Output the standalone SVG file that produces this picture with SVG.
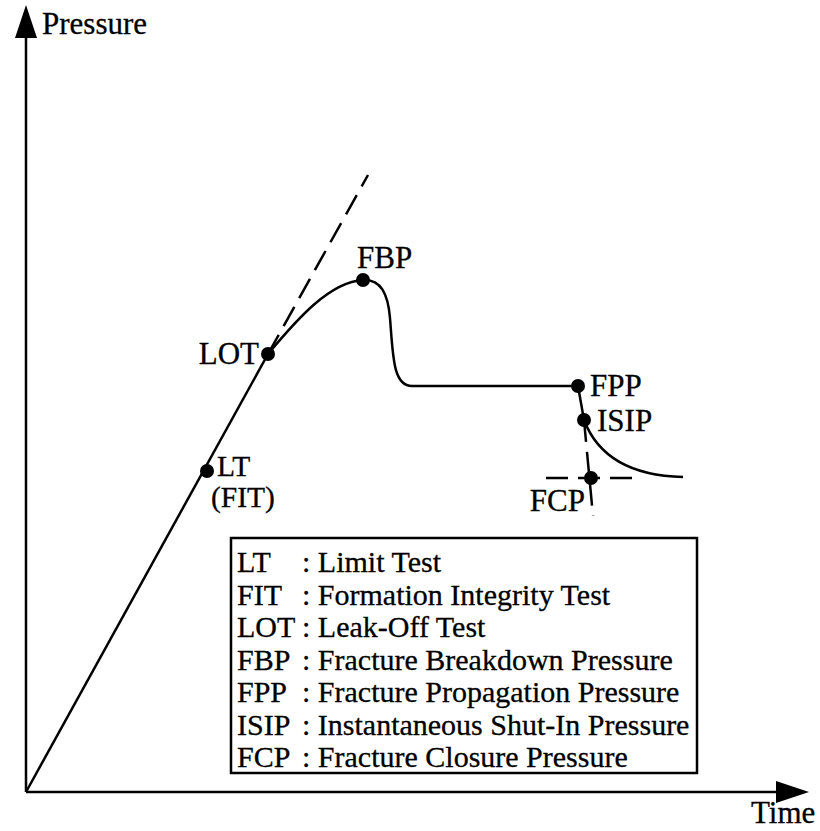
<svg xmlns="http://www.w3.org/2000/svg" width="820" height="831" viewBox="0 0 820 831">
  <style>
    .ax { stroke: #000; stroke-width: 2.5; fill: none; }
    .crv { stroke: #000; stroke-width: 2.5; fill: none; stroke-linejoin: round; }
    .dsh { stroke: #000; stroke-width: 2.5; fill: none; stroke-dasharray: 22 10; }
    .dot { fill: #000; }
    text { font-family: "Liberation Serif", "Times New Roman", serif; fill: #000; stroke: #000; stroke-width: 0.3; }
    .ttl { font-size: 31px; }
    .lbl { font-size: 31px; }
    .lbs { font-size: 29.5px; }
    .leg { font-size: 30px; }
  </style>
  <rect width="820" height="831" fill="#fff"/>

  <!-- axes -->
  <g id="axes">
    <path class="ax" d="M26,792 L26,34"/>
    <path d="M26,5 L37,38 L15,38 Z" fill="#000"/>
    <path class="ax" d="M26,792 L780,792"/>
    <path d="M809,792 L776,781 L776,803 Z" fill="#000"/>
    <text class="ttl" x="42" y="34">Pressure</text>
    <text class="ttl" x="751" y="823">Time</text>
  </g>

  <!-- pressure curve and construction lines -->
  <g id="connectors">
    <path class="crv" d="M26,792 L268,354"/>
    <path class="dsh" d="M268,354 L368,175"/>
    <path class="crv" d="M268,354 C298,318 330,282 363,280 C381,279 388,294 390,318 C393,356 393,386 412,386 L578,386 L584,420"/>
    <path class="crv" d="M584,420 C600,462 640,476 683,477"/>
    <path class="dsh" d="M584,420 L593,516"/>
    <path class="dsh" d="M546,478 L640,478"/>
  </g>

  <g id="LT">
    <circle class="dot" cx="207" cy="471" r="7"/>
    <text class="lbs" x="217" y="476">LT</text>
    <text class="lbs" x="211" y="507">(FIT)</text>
  </g>
  <g id="LOT">
    <circle class="dot" cx="268" cy="354" r="7"/>
    <text class="lbl" x="259" y="364" text-anchor="end">LOT</text>
  </g>
  <g id="FBP">
    <circle class="dot" cx="363" cy="280" r="7"/>
    <text class="lbl" x="357" y="268">FBP</text>
  </g>
  <g id="FPP">
    <circle class="dot" cx="578" cy="386" r="7"/>
    <text class="lbl" x="590" y="396">FPP</text>
  </g>
  <g id="ISIP">
    <circle class="dot" cx="584" cy="420" r="7"/>
    <text class="lbl" x="597" y="431">ISIP</text>
  </g>
  <g id="FCP">
    <circle class="dot" cx="591" cy="478" r="7"/>
    <text class="lbl" x="585" y="511" text-anchor="end">FCP</text>
  </g>

  <!-- legend -->
  <g id="legend">
    <rect x="231" y="538" width="466" height="235" fill="#fff" stroke="#000" stroke-width="2.5"/>
    <g class="leg">
      <text x="237" y="572">LT</text><text x="302" y="572">: Limit Test</text>
      <text x="237" y="604.5">FIT</text><text x="302" y="604.5">: Formation Integrity Test</text>
      <text x="237" y="637">LOT</text><text x="302" y="637">: Leak-Off Test</text>
      <text x="237" y="669.5">FBP</text><text x="302" y="669.5">: Fracture Breakdown Pressure</text>
      <text x="237" y="702">FPP</text><text x="302" y="702">: Fracture Propagation Pressure</text>
      <text x="237" y="734.5">ISIP</text><text x="302" y="734.5">: Instantaneous Shut-In Pressure</text>
      <text x="237" y="767">FCP</text><text x="302" y="767">: Fracture Closure Pressure</text>
    </g>
  </g>
</svg>
